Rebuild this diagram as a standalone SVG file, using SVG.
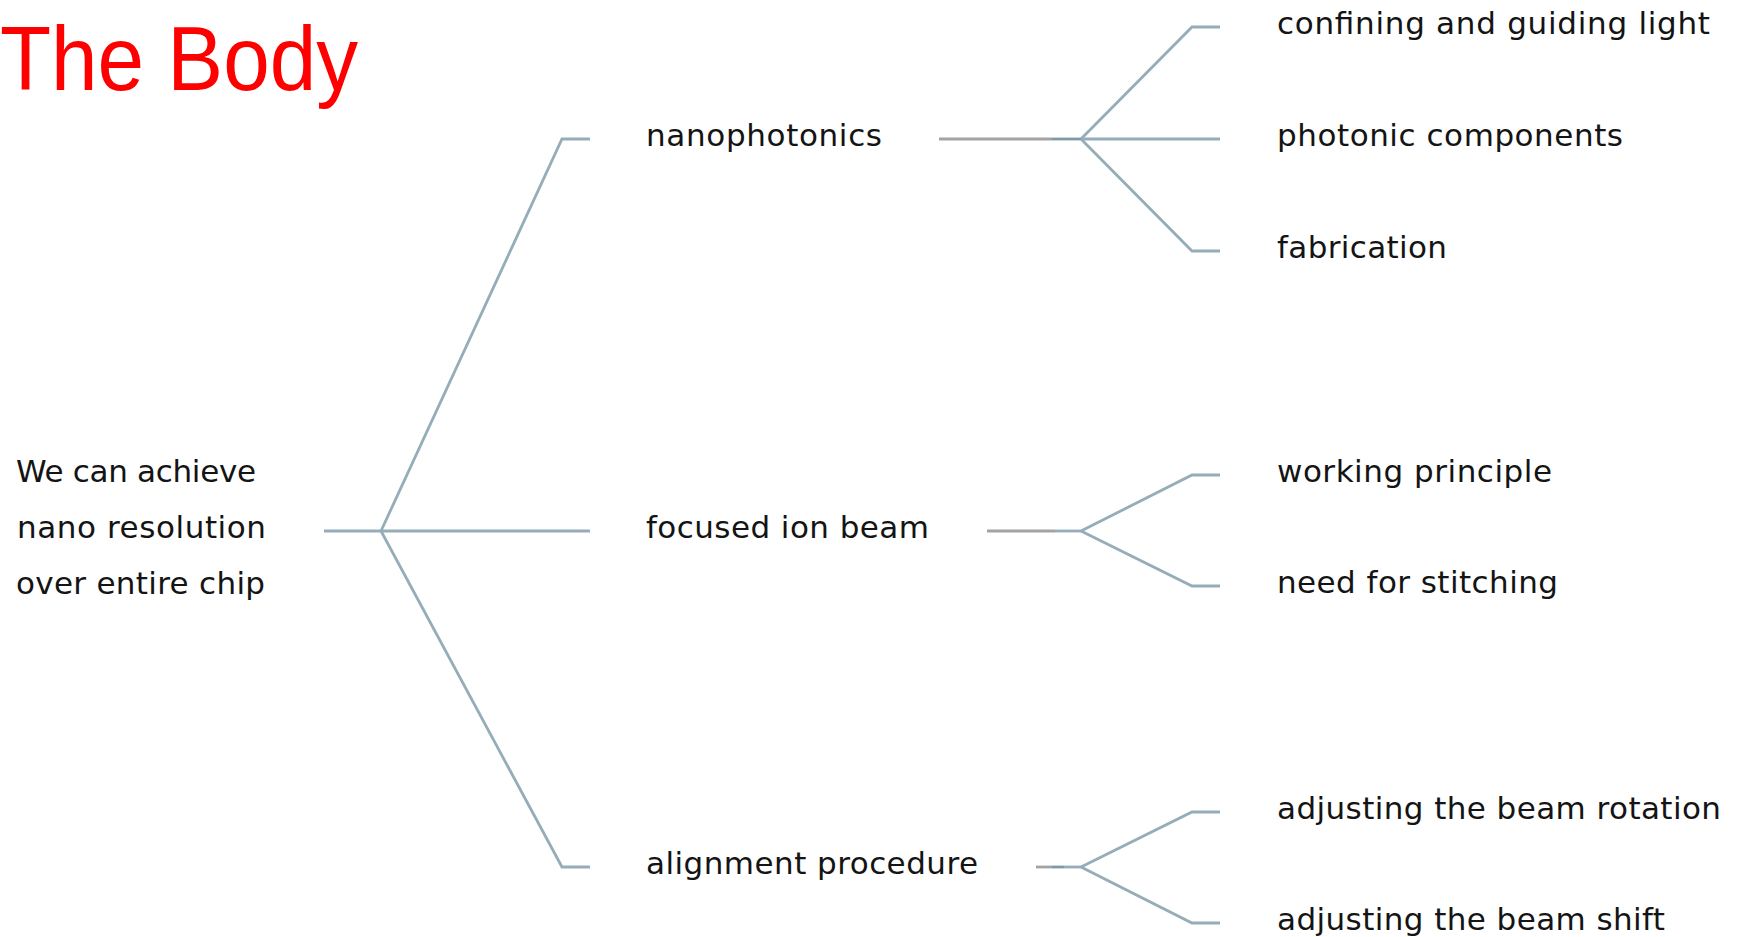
<svg xmlns="http://www.w3.org/2000/svg" width="1741" height="937" viewBox="0 0 1741 937">
<style>
.lbl{font-family:"DejaVu Sans","Open Sans",sans-serif;font-size:31px;fill:#141414}
.ln{fill:none;stroke:#95adb9;stroke-width:2.8;stroke-linejoin:miter}
.gr{fill:none;stroke:#a3a3a3;stroke-width:2.8}
.dk{fill:none;stroke:#7f98a5;stroke-width:2.8}
.title{font-family:"Liberation Sans","DejaVu Sans",sans-serif;font-size:90px;fill:#ff0000}
</style>
<rect width="1741" height="937" fill="#ffffff"/>
<text class="title" x="0" y="90" textLength="358" lengthAdjust="spacingAndGlyphs">The Body</text>
<g id="connectors">
  <path class="ln" d="M324 531 H590"/>
  <path class="ln" d="M381 531 L562 139 H590"/>
  <path class="ln" d="M381 531 L562 867 H590"/>
  <path class="gr" d="M939 139 H1052"/>
  <path class="dk" d="M1052 139 H1081"/>
  <path class="ln" d="M1081 139 L1192 27 H1220"/>
  <path class="ln" d="M1081 139 H1220"/>
  <path class="ln" d="M1081 139 L1192 251 H1220"/>
  <path class="gr" d="M987 531 H1055"/>
  <path class="ln" d="M1055 531 H1081"/>
  <path class="ln" d="M1081 531 L1192 475 H1220"/>
  <path class="ln" d="M1081 531 L1192 586 H1220"/>
  <path class="gr" d="M1036 867 H1052"/>
  <path class="dk" d="M1052 867 H1064"/>
  <path class="ln" d="M1064 867 H1081"/>
  <path class="ln" d="M1081 867 L1192 812 H1220"/>
  <path class="ln" d="M1081 867 L1192 923 H1220"/>
</g>
<g id="root">
  <text class="lbl" x="16" y="482" textLength="240">We can achieve</text>
  <text class="lbl" x="17" y="538" textLength="249">nano resolution</text>
  <text class="lbl" x="16" y="594" textLength="249">over entire chip</text>
</g>
<g id="nanophotonics"><text class="lbl" x="646" y="146" textLength="236">nanophotonics</text></g>
<g id="fib"><text class="lbl" x="646" y="538" textLength="283">focused ion beam</text></g>
<g id="alignment"><text class="lbl" x="646" y="874" textLength="332">alignment procedure</text></g>
<g id="confining"><text class="lbl" x="1277" y="34" textLength="433">confining and guiding light</text></g>
<g id="photonic"><text class="lbl" x="1277" y="146" textLength="346">photonic components</text></g>
<g id="fabrication"><text class="lbl" x="1277" y="258" textLength="170">fabrication</text></g>
<g id="working"><text class="lbl" x="1277" y="482" textLength="275">working principle</text></g>
<g id="stitching"><text class="lbl" x="1277" y="593" textLength="281">need for stitching</text></g>
<g id="rotation"><text class="lbl" x="1277" y="819" textLength="444">adjusting the beam rotation</text></g>
<g id="shift"><text class="lbl" x="1277" y="930" textLength="388">adjusting the beam shift</text></g>
</svg>
